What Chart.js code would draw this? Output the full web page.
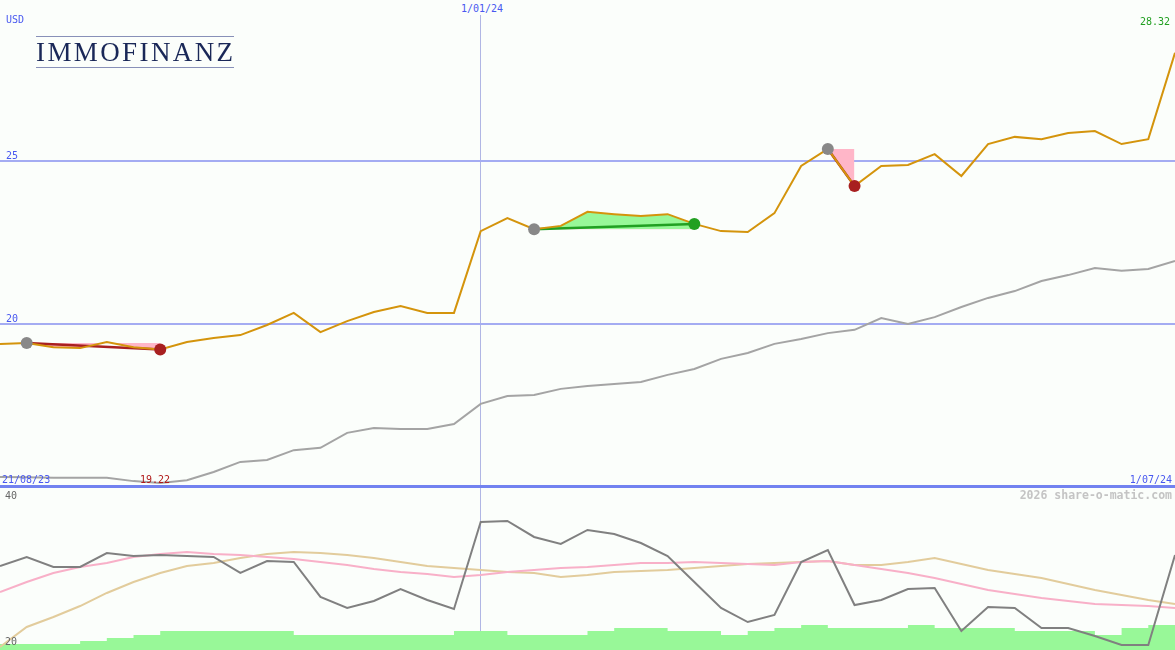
<!DOCTYPE html>
<html>
<head>
<meta charset="utf-8">
<script src="https://cdn.jsdelivr.net/npm/chart.js@4/dist/chart.umd.min.js"></script>
<style>
  body { margin: 0; background: #fbfefb; }
  #wrap { position: relative; width: 1175px; height: 650px; overflow: hidden; background: #fbfefb; }
  #wrap canvas { position: absolute; left: 0; }
  .lbl { position: absolute; font-family: "DejaVu Sans Mono", monospace; font-size: 10px; line-height: 11px; white-space: nowrap; color: #4858f0; }
  #logo { position: absolute; left: 36px; top: 36px; width: 198px; height: 30px; border-top: 1px solid #8890b8; border-bottom: 1px solid #8890b8;
          font-family: "Liberation Serif", serif; font-size: 27px; line-height: 30px; letter-spacing: 2.4px; color: #1a2858; text-align: center; }
</style>
</head>
<body>
<div id="wrap">
  <canvas id="priceChart" width="1175" height="488" style="top:0"></canvas>
  <canvas id="oscChart" width="1175" height="162" style="top:488px"></canvas>

  <div id="logo">IMMOFINANZ</div>
  <div class="lbl" style="left:6px;top:14px">USD</div>
  <div class="lbl" style="left:6px;top:150px">25</div>
  <div class="lbl" style="left:6px;top:313px">20</div>
  <div class="lbl" style="left:457px;top:0;width:50px;height:15px;padding-top:3px;box-sizing:border-box;text-align:center;background:#fbfefb">1/01/24</div>
  <div class="lbl" style="right:5px;top:16px;color:#22a022">28.32</div>
  <div class="lbl" style="left:2px;top:474px">21/08/23</div>
  <div class="lbl" style="left:140px;top:474px;color:#b01818">19.22</div>
  <div class="lbl" style="right:3px;top:474px">1/07/24</div>
  <div class="lbl" style="right:3px;top:490px;color:#c4c4c4;font-weight:bold;font-size:11.5px">2026 share-o-matic.com</div>
  <div class="lbl" style="left:5px;top:490px;color:#666">40</div>
  <div class="lbl" style="left:5px;top:636px;color:#666">20</div>
</div>

<script>
// weekly closes
const labels = ['28/08/23','4/09/23','11/09/23','18/09/23','25/09/23','2/10/23','9/10/23','16/10/23','23/10/23','30/10/23',
  '6/11/23','13/11/23','20/11/23','27/11/23','4/12/23','11/12/23','18/12/23','25/12/23','1/01/24','8/01/24',
  '15/01/24','22/01/24','29/01/24','5/02/24','12/02/24','19/02/24','26/02/24','4/03/24','11/03/24','18/03/24',
  '25/03/24','1/04/24','8/04/24','15/04/24','22/04/24','29/04/24','6/05/24','13/05/24','20/05/24','27/05/24',
  '3/06/24','10/06/24','17/06/24','24/06/24','1/07/24'];

const price = [19.39, 19.42, 19.29, 19.26, 19.45, 19.29, 19.22, 19.45, 19.57, 19.66,
  19.97, 20.34, 19.75, 20.09, 20.37, 20.55, 20.34, 20.34, 22.85, 23.25,
  22.91, 23.01, 23.44, 23.37, 23.31, 23.37, 23.07, 22.85, 22.82, 23.40,
  24.85, 25.37, 24.23, 24.85, 24.88, 25.21, 24.54, 25.52, 25.74, 25.67,
  25.86, 25.92, 25.52, 25.67, 28.32];

const slowAvg = [15.31, 15.30, 15.28, 15.28, 15.28, 15.18, 15.12, 15.21, 15.46, 15.77,
  15.83, 16.13, 16.20, 16.66, 16.81, 16.78, 16.78, 16.93, 17.55, 17.79,
  17.82, 18.01, 18.10, 18.16, 18.22, 18.44, 18.62, 18.93, 19.11, 19.39,
  19.54, 19.72, 19.82, 20.18, 20.00, 20.21, 20.52, 20.80, 21.01, 21.32,
  21.50, 21.72, 21.63, 21.69, 21.93];

// trades: entry / exit week index
const tradeStart = [1, 20, 31];
const tradeEnd = [6, 26, 32];

// lower panel
const osc = [30.27, 31.51, 30.14, 30.14, 32.05, 31.64, 31.78, 31.64, 31.51, 29.32,
  30.96, 30.82, 26.03, 24.52, 25.48, 27.12, 25.62, 24.38, 36.30, 36.44,
  34.25, 33.29, 35.21, 34.66, 33.42, 31.64, 28.08, 24.52, 22.60, 23.56,
  30.82, 32.47, 24.93, 25.62, 27.12, 27.26, 21.37, 24.66, 24.52, 21.78,
  21.78, 20.68, 19.45, 19.45, 31.78];

const oscFast = [26.71, 28.08, 29.32, 30.14, 30.68, 31.51, 31.92, 32.19, 31.92, 31.78,
  31.51, 31.23, 30.82, 30.41, 29.86, 29.45, 29.18, 28.77, 29.04, 29.45,
  29.73, 30.00, 30.14, 30.41, 30.68, 30.68, 30.82, 30.68, 30.55, 30.41,
  30.82, 30.96, 30.41, 29.86, 29.32, 28.63, 27.81, 26.99, 26.44, 25.89,
  25.48, 25.07, 24.93, 24.79, 24.52];

const oscSlow = [19.18, 21.92, 23.29, 24.79, 26.58, 28.08, 29.32, 30.27, 30.68, 31.37,
  31.92, 32.19, 32.05, 31.78, 31.37, 30.82, 30.27, 30.00, 29.73, 29.45,
  29.32, 28.77, 29.04, 29.45, 29.59, 29.73, 30.00, 30.27, 30.55, 30.68,
  30.82, 30.96, 30.41, 30.41, 30.82, 31.37, 30.55, 29.73, 29.18, 28.63,
  27.81, 26.99, 26.30, 25.62, 25.07];

const volume = [6, 6, 6, 9, 12, 15, 19, 19, 19, 19,
  19, 15, 15, 15, 15, 15, 15, 19, 19, 15,
  15, 15, 19, 22, 22, 19, 19, 15, 19, 22,
  25, 22, 22, 22, 25, 22, 22, 22, 19, 19,
  19, 15, 22, 25, 25];

const yearMark = '1/01/24';
const priceMin = 14.969, priceMax = 29.939;
const oscMin = 18.767, oscMax = 40.959;

const C = {
  bg: '#fbfefb',
  price: '#d4940c',
  slow: '#a4a4a4',
  grid: '#a4acf2',
  base: '#7282f0',
  vline: '#b0b6e4',
  gain: '#98f898',
  loss: '#ffb6c8',
  gainLine: '#22a022',
  lossLine: '#a82020',
  entry: '#888888',
  osc: '#808080',
  fast: '#f8b0c8',
  slowOsc: '#e2cc9c'
};

// build trade series from the price list
const n = labels.length;
const entryLevel = new Array(n).fill(null);
const inTrade = new Array(n).fill(null);
const entryDots = new Array(n).fill(null);
const exitDots = new Array(n).fill(null);
const exitColors = new Array(n).fill(C.lossLine);
const tradeLines = [];

tradeStart.forEach((s, k) => {
  const e = tradeEnd[k];
  const win = price[e] >= price[s];
  for (let i = s; i <= e; i++) {
    entryLevel[i] = price[s];
    inTrade[i] = price[i];
  }
  entryDots[s] = price[s];
  exitDots[e] = price[e];
  exitColors[e] = win ? C.gainLine : C.lossLine;
  const seg = new Array(n).fill(null);
  seg[s] = price[s];
  seg[e] = price[e];
  tradeLines.push({
    data: seg, spanGaps: true, borderColor: win ? C.gainLine : C.lossLine,
    borderWidth: 2.5, pointRadius: 0, fill: false
  });
});

function vGrid(ctx) {
  return ctx.tick && labels[ctx.tick.value] === yearMark ? C.vline : 'rgba(0,0,0,0)';
}

const xScale = {
  type: 'category', offset: false,
  ticks: { display: false },
  border: { display: false },
  grid: { drawTicks: false, offset: false, color: vGrid, lineWidth: 1 }
};

// ---- upper panel ----
const upperSets = [
  { data: entryDots, showLine: false, pointRadius: 6, pointHoverRadius: 6, pointBorderWidth: 0, pointBackgroundColor: C.entry, clip: false },
  { data: exitDots, showLine: false, pointRadius: 6, pointHoverRadius: 6, pointBorderWidth: 0, pointBackgroundColor: exitColors, clip: false },
  { data: price, borderColor: C.price, borderWidth: 2, pointRadius: 0, fill: false },
  ...tradeLines,
  { data: inTrade, borderWidth: 0, borderColor: 'rgba(0,0,0,0)', pointRadius: 0,
    fill: { target: 3 + tradeLines.length + 1, above: C.gain, below: C.loss } },
  { data: entryLevel, borderWidth: 0, borderColor: 'rgba(0,0,0,0)', pointRadius: 0, fill: false },
  { data: slowAvg, borderColor: C.slow, borderWidth: 2, pointRadius: 0, fill: false }
];

new Chart(document.getElementById('priceChart'), {
  type: 'line',
  data: { labels: labels, datasets: upperSets },
  options: {
    responsive: false, animation: false,
    layout: { padding: 0, autoPadding: false },
    elements: { line: { tension: 0 } },
    plugins: { legend: { display: false }, tooltip: { enabled: false } },
    scales: {
      x: xScale,
      y: {
        min: priceMin, max: priceMax,
        afterBuildTicks: s => { s.ticks = [15, 20, 25].map(v => ({ value: v })); },
        ticks: { display: false },
        border: { display: false },
        grid: {
          drawTicks: false,
          color: ctx => ctx.tick && ctx.tick.value === 15 ? C.base : C.grid,
          lineWidth: ctx => ctx.tick && ctx.tick.value === 15 ? 3 : 2
        }
      }
    }
  }
});

// ---- lower panel ----
new Chart(document.getElementById('oscChart'), {
  type: 'line',
  data: {
    labels: labels,
    datasets: [
      { data: osc, borderColor: C.osc, borderWidth: 2, pointRadius: 0, fill: false },
      { data: oscFast, borderColor: C.fast, borderWidth: 2, pointRadius: 0, fill: false },
      { data: oscSlow, borderColor: C.slowOsc, borderWidth: 2, pointRadius: 0, fill: false },
      { data: volume, yAxisID: 'v', stepped: 'before', borderWidth: 0, borderColor: 'rgba(0,0,0,0)',
        backgroundColor: C.gain, pointRadius: 0, fill: 'origin' }
    ]
  },
  options: {
    responsive: false, animation: false,
    layout: { padding: 0, autoPadding: false },
    elements: { line: { tension: 0 } },
    plugins: { legend: { display: false }, tooltip: { enabled: false } },
    scales: {
      x: xScale,
      y: { display: false, min: oscMin, max: oscMax },
      v: { display: false, min: 0, max: 162 }
    }
  }
});
</script>
</body>
</html>
